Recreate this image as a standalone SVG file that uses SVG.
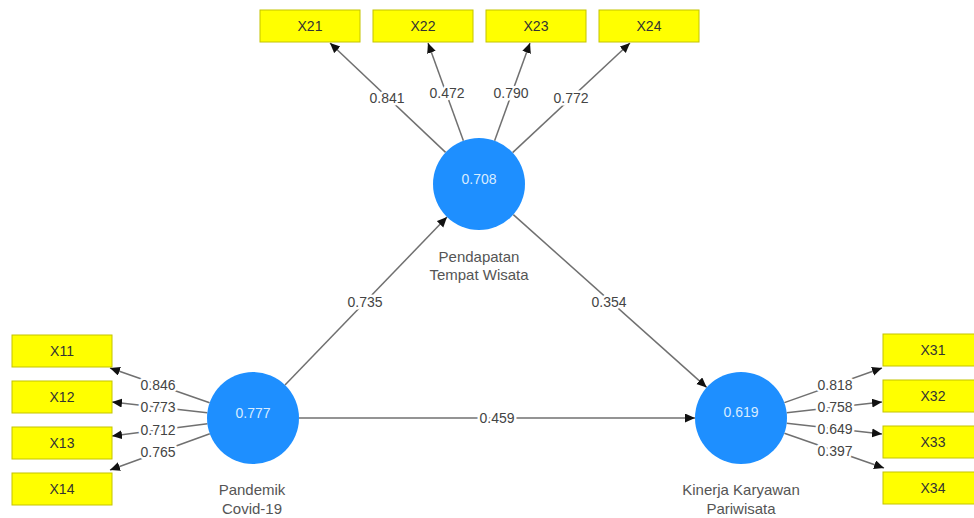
<svg xmlns="http://www.w3.org/2000/svg" width="974" height="518" viewBox="0 0 974 518">
<defs>
<marker id="ah" markerUnits="userSpaceOnUse" markerWidth="11" markerHeight="10" refX="10" refY="4.5" orient="auto">
<path d="M0,0 L10,4.5 L0,9 Z" fill="#111"/>
</marker>
<style>
.bg{fill:#fff}
.box rect{fill:#ffff00;stroke:#c4c400;stroke-width:1}
.box text{font-family:"Liberation Sans",Arial,sans-serif;font-size:14px;fill:#333;text-anchor:middle}
.lv circle{fill:#1e8fff}
.lv .v{font-family:"Liberation Sans",Arial,sans-serif;font-size:14px;fill:#d8ecff;text-anchor:middle}
.lv .n{font-family:"Liberation Sans",Arial,sans-serif;font-size:15px;fill:#555;text-anchor:middle}
.edges line{stroke:#707070;stroke-width:1.5;marker-end:url(#ah)}
.edges text{font-family:"Liberation Sans",Arial,sans-serif;font-size:14px;fill:#444;text-anchor:middle;stroke:#fff;stroke-width:5;paint-order:stroke;stroke-linejoin:round}
</style>
</defs>
<rect class="bg" x="0" y="0" width="974" height="518"/>

<g id="connectors" class="edges">
<line x1="445.6" y1="152.4" x2="330" y2="43"/>
<line x1="463.4" y1="140.7" x2="428" y2="43"/>
<line x1="494.6" y1="140.7" x2="530" y2="43"/>
<line x1="512.6" y1="152.6" x2="630" y2="43"/>
<line x1="209.6" y1="402.8" x2="110" y2="368"/>
<line x1="207.3" y1="412.8" x2="112" y2="402"/>
<line x1="207.4" y1="423.8" x2="112" y2="436"/>
<line x1="209.8" y1="433.7" x2="110" y2="470"/>
<line x1="784.4" y1="402.6" x2="882" y2="368"/>
<line x1="786.7" y1="412.8" x2="882" y2="402"/>
<line x1="786.7" y1="423.2" x2="882" y2="434"/>
<line x1="784.4" y1="433.2" x2="884" y2="468"/>
<line x1="285" y1="384.9" x2="447" y2="217.1"/>
<line x1="513.3" y1="214.6" x2="706.7" y2="387.4"/>
<line x1="299" y1="418" x2="695" y2="418"/>
<text x="387" y="103">0.841</text>
<text x="447" y="98">0.472</text>
<text x="511" y="98">0.790</text>
<text x="571" y="103">0.772</text>
<text x="158" y="390">0.846</text>
<text x="158" y="412">0.773</text>
<text x="158" y="435">0.712</text>
<text x="158" y="457">0.765</text>
<text x="835" y="390">0.818</text>
<text x="835" y="412">0.758</text>
<text x="835" y="434">0.649</text>
<text x="835" y="456">0.397</text>
<text x="365" y="307">0.735</text>
<text x="609" y="307">0.354</text>
<text x="497" y="423">0.459</text>
</g>

<g id="X21" class="box"><rect x="260" y="10" width="100" height="32"/><text x="310" y="31">X21</text></g>
<g id="X22" class="box"><rect x="373" y="10" width="100" height="32"/><text x="423" y="31">X22</text></g>
<g id="X23" class="box"><rect x="486" y="10" width="100" height="32"/><text x="536" y="31">X23</text></g>
<g id="X24" class="box"><rect x="599" y="10" width="100" height="32"/><text x="649" y="31">X24</text></g>

<g id="X11" class="box"><rect x="12" y="335" width="100" height="32"/><text x="62" y="356">X11</text></g>
<g id="X12" class="box"><rect x="12" y="381" width="100" height="32"/><text x="62" y="402">X12</text></g>
<g id="X13" class="box"><rect x="12" y="427" width="100" height="32"/><text x="62" y="448">X13</text></g>
<g id="X14" class="box"><rect x="12" y="473" width="100" height="32"/><text x="62" y="494">X14</text></g>

<g id="X31" class="box"><rect x="883" y="334" width="100" height="32"/><text x="933" y="355">X31</text></g>
<g id="X32" class="box"><rect x="883" y="380" width="100" height="32"/><text x="933" y="401">X32</text></g>
<g id="X33" class="box"><rect x="883" y="426" width="100" height="32"/><text x="933" y="447">X33</text></g>
<g id="X34" class="box"><rect x="883" y="472" width="100" height="32"/><text x="933" y="493">X34</text></g>

<g id="pendapatan" class="lv">
<circle cx="479" cy="184" r="46"/>
<text class="v" x="479" y="184">0.708</text>
<text class="n" x="479" y="262">Pendapatan</text>
<text class="n" x="479" y="280">Tempat Wisata</text>
</g>
<g id="pandemik" class="lv">
<circle cx="253" cy="418" r="46"/>
<text class="v" x="253" y="418">0.777</text>
<text class="n" x="252" y="495">Pandemik</text>
<text class="n" x="252" y="514">Covid-19</text>
</g>
<g id="kinerja" class="lv">
<circle cx="741" cy="418" r="46"/>
<text class="v" x="741" y="417">0.619</text>
<text class="n" x="741" y="495">Kinerja Karyawan</text>
<text class="n" x="741" y="514">Pariwisata</text>
</g>
</svg>
